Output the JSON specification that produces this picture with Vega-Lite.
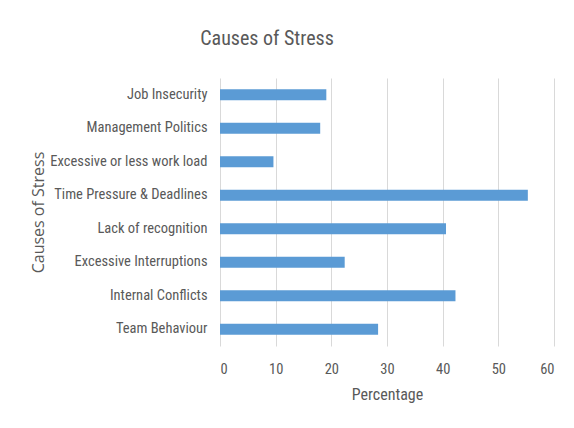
{
  "$schema": "https://vega.github.io/schema/vega-lite/v6.json",
  "autosize": "none",
  "width": 334,
  "height": 268,
  "padding": {"left": 220, "top": 78, "right": 20, "bottom": 82},
  "background": "white",
  "title": {
    "text": "Causes of Stress",
    "fontSize": 20,
    "font": "Roboto Condensed",
    "fontWeight": "normal",
    "color": "#595959",
    "anchor": "middle",
    "frame": "group",
    "dx": -120,
    "offset": 29
  },
  "data": {
    "values": [
      {"cause": "Job Insecurity", "percentage": 19.1},
      {"cause": "Management Politics", "percentage": 18.0},
      {"cause": "Excessive or less work load", "percentage": 9.6},
      {"cause": "Time Pressure & Deadlines", "percentage": 55.3},
      {"cause": "Lack of recognition", "percentage": 40.6},
      {"cause": "Excessive Interruptions", "percentage": 22.4},
      {"cause": "Internal Conflicts", "percentage": 42.3},
      {"cause": "Team Behaviour", "percentage": 28.4}
    ]
  },
  "mark": {"type": "bar", "color": "#5b9bd5"},
  "encoding": {
    "y": {
      "field": "cause",
      "type": "nominal",
      "sort": null,
      "scale": {"paddingInner": 0.67, "paddingOuter": 0.335},
      "axis": {
        "title": "Causes of Stress",
        "titleFontSize": 16,
        "titleFontWeight": "normal",
        "titleColor": "#595959",
        "titleFont": "Open Sans",
        "titleX": -182,
        "titleY": 134,
        "titleAngle": -90,
        "titleBaseline": "middle",
        "labelFont": "Roboto Condensed",
        "labelFontSize": 14.5,
        "labelColor": "#595959",
        "labelPadding": 13,
        "ticks": false,
        "domain": false,
        "grid": false
      }
    },
    "x": {
      "field": "percentage",
      "type": "quantitative",
      "scale": {"domain": [0, 60], "nice": false},
      "axis": {
        "title": "Percentage",
        "titleFontSize": 16,
        "titleFontWeight": "normal",
        "titleColor": "#595959",
        "titleFont": "Roboto Condensed",
        "titlePadding": 11,
        "values": [0, 10, 20, 30, 40, 50, 60],
        "labelFont": "Roboto Condensed",
        "labelFontSize": 14.5,
        "labelColor": "#595959",
        "labelPadding": 16,
        "ticks": false,
        "domain": false,
        "grid": true,
        "gridColor": "#d9d9d9",
        "gridWidth": 1
      }
    }
  },
  "config": {"view": {"stroke": null}}
}
